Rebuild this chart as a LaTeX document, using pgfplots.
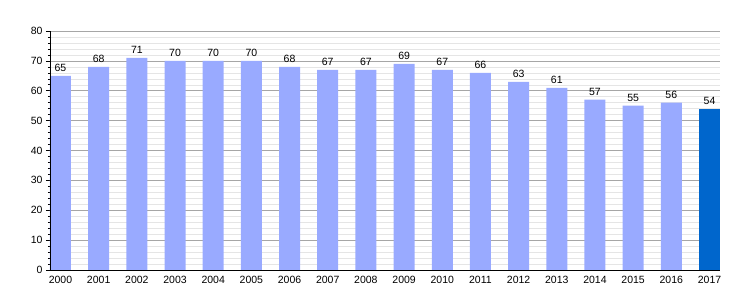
\documentclass[border=0pt]{standalone}
\usepackage{pgfplots}
\pgfplotsset{compat=1.18}
\usepackage{fontspec}
\setmainfont{Liberation Sans}
\definecolor{barlight}{HTML}{99AAFF}
\definecolor{bardark}{HTML}{0066CC}
\begin{document}
\begin{tikzpicture}[x=1pt,y=1pt]
\begin{axis}[
  at={(50pt,30pt)}, anchor=south west,
  scale only axis, width=670pt, height=239pt,
  xmin=-0.275, xmax=17.275, ymin=0, ymax=80,
  axis line style={draw=none},
  ytick pos=left, xtick pos=bottom,
  xtick={0,...,17},
  xticklabels={2000,2001,2002,2003,2004,2005,2006,2007,2008,2009,2010,2011,2012,2013,2014,2015,2016,2017},
  x tick style={draw=none},
  ytick={0,10,...,80},
  minor ytick={2,4,...,78},
  tick align=outside,
  major tick length=4pt, minor tick length=2pt,
  y tick style={black, line width=0.6pt},
  grid=none,
  ticklabel style={font=\fontsize{10.5}{12}\selectfont},
  /pgf/number format/assume math mode=true,
  xticklabel style={yshift=1pt},
  nodes near coords,
  nodes near coords style={font=\fontsize{10.5}{12}\selectfont, yshift=1pt},
  clip=false,
]
\pgfplotsinvokeforeach{2,4,6,8,12,14,16,18,22,24,26,28,32,34,36,38,42,44,46,48,52,54,56,58,62,64,66,68,72,74,76,78}{
  \draw[gray!20, line width=0.5pt] (axis cs:-0.275,#1) -- (axis cs:17.275,#1);}
\pgfplotsinvokeforeach{10,20,...,80}{
  \draw[gray!70, line width=0.6pt] (axis cs:-0.275,#1) -- (axis cs:17.275,#1);}
\addplot[ybar, bar width=21pt, fill=barlight, draw=none] coordinates {
(0,65) (1,68) (2,71) (3,70) (4,70) (5,70) (6,68) (7,67) (8,67) (9,69) (10,67) (11,66) (12,63) (13,61) (14,57) (15,55) (16,56)};
\addplot[ybar, bar width=21pt, fill=bardark, draw=none] coordinates {(17,54)};
\draw[black, line width=0.8pt] (rel axis cs:0,1) -- (rel axis cs:0,0) -- (rel axis cs:1,0);
\end{axis}
\pgfresetboundingbox
\path (0,0) rectangle (750,300);
\end{tikzpicture}
\end{document}
